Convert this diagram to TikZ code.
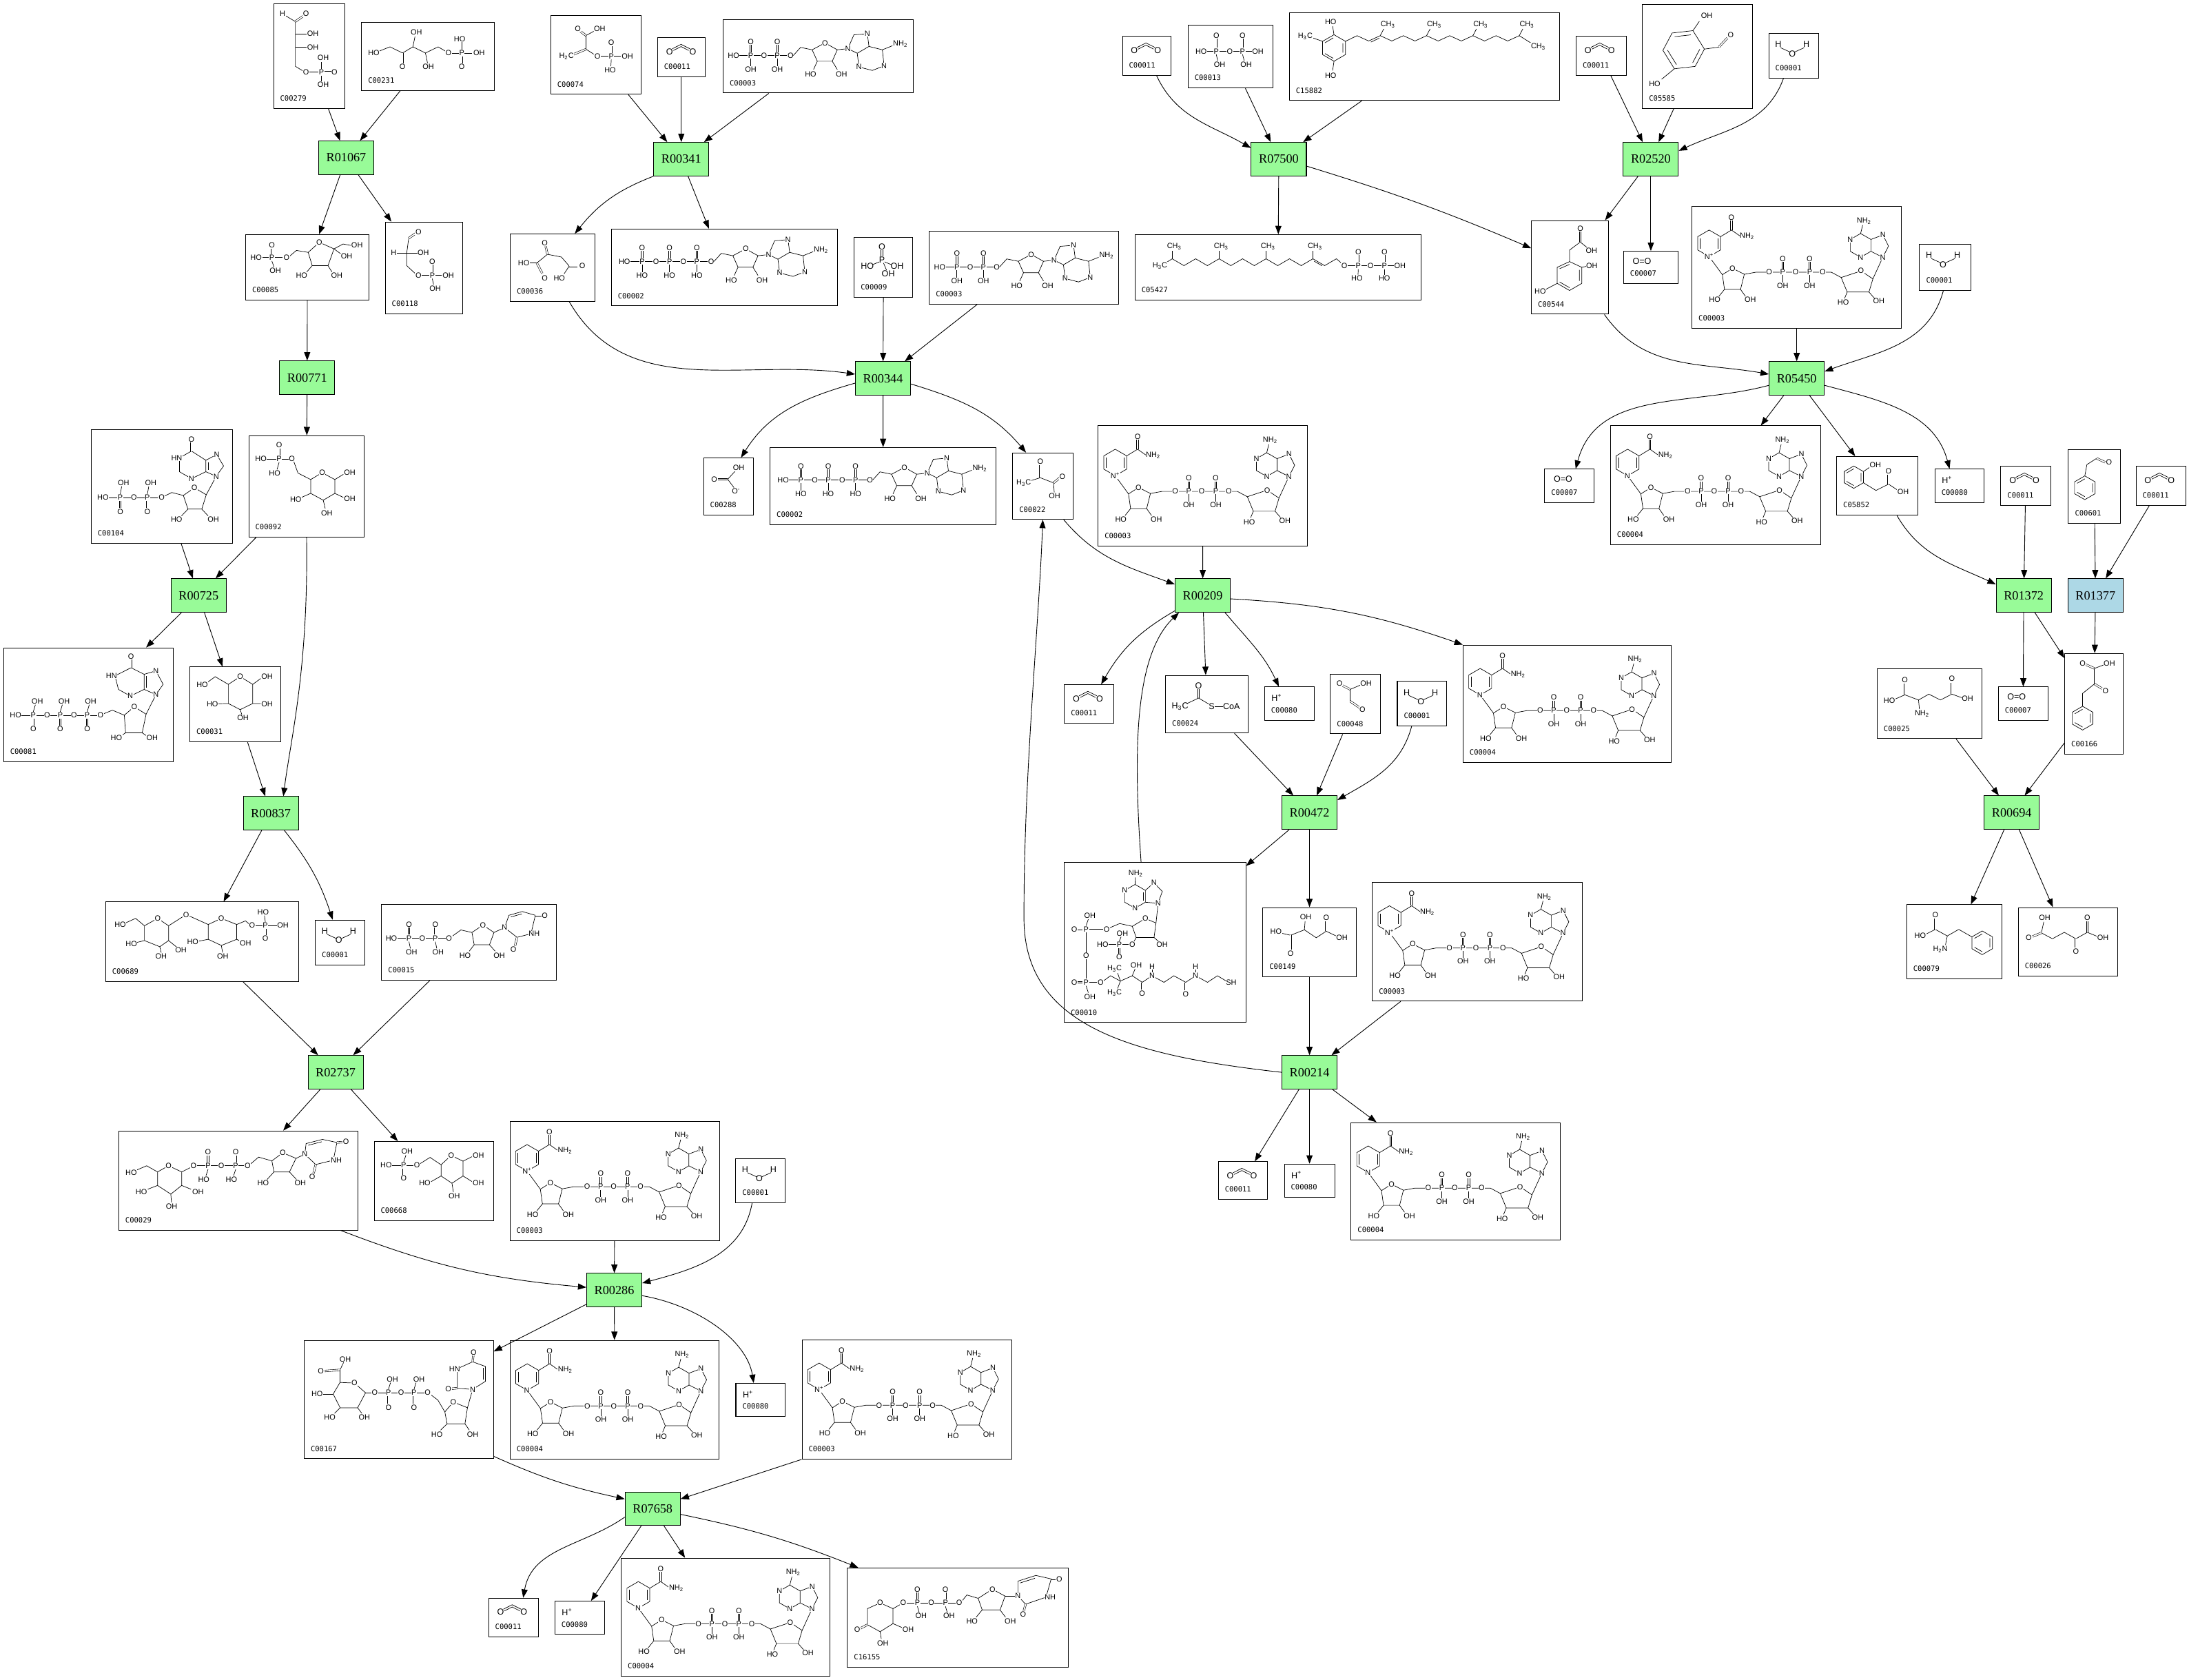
\documentclass[tikz,border=0pt]{standalone}
\usepackage{fontspec}
\setmainfont{Liberation Serif}
\newfontfamily\idfont{DejaVu Sans Mono}
\newfontfamily\chemfont{Liberation Sans}
\usetikzlibrary{arrows.meta}
\definecolor{rgreen}{HTML}{98FB98}
\definecolor{rblue}{HTML}{ADD8E6}
\tikzset{
 rbox/.style={draw, line width=0.5pt, fill=rgreen, minimum width=39.5pt, minimum height=24pt, inner sep=0pt, font=\fontsize{9}{9}\selectfont},
 cbox/.style={draw, line width=0.5pt, inner sep=0pt},
 idlab/.style={font=\idfont\fontsize{5.2}{5.2}\selectfont, inner sep=0pt, anchor=base west},
 chtext/.style={font=\chemfont\fontsize{6.2}{6.2}\selectfont, inner sep=0pt},
 chlab/.style={font=\chemfont\fontsize{5.4}{5.4}\selectfont, inner sep=0.3pt, fill=white},
 bond/.style={line width=0.35pt},
 dbl/.style={line width=0.3pt, double, double distance=0.9pt},
 rxarrow/.style={-{Triangle[length=6pt,width=4.4pt]}, line width=0.45pt},
}
\newcommand\cpd[6]{\node[cbox, minimum width={#4-#2}, minimum height={#5-#3}] (#1) at ({(#2+#4)/2},{-(#3+#5)/2}) {};
 \node[idlab] at ({#2+4.5},{-#5+5.3}) {#6};}
\newcommand\rxn[4]{\node[rbox] (#1) at (#2,-#3) {#4};}
\newcommand\lb[2]{\node[chlab] at (#1) {#2};}
\newcommand\inbox[2]{\begin{scope}[shift={(#1.north west)}, yscale=-1]#2\end{scope}}
\newcommand\hexa[2]{\draw[bond, shift={(#1)}] (90:#2) -- (30:#2) -- (-30:#2) -- (-90:#2) -- (210:#2) -- (150:#2) -- cycle;
 \draw[bond, shift={(#1)}] (30:0.75*#2) -- (-30:0.75*#2) (-90:0.75*#2) -- (210:0.75*#2) (150:0.75*#2) -- (90:0.75*#2);}
\newcommand\cotwo[1]{\begin{scope}[shift={(#1.north west)}]
 \node[chtext] at (8.8,-10.2) {O}; \node[chtext] at (25.5,-10.2) {O};
 \draw[bond] (10.8,-8.2) -- (17.1,-5.0) -- (23.5,-8.2);
 \draw[bond] (11.6,-9.4) -- (17.1,-6.6) -- (22.6,-9.4);
\end{scope}}
\newcommand\water[1]{\begin{scope}[shift={(#1.north west)}]
 \node[chtext] at (7,-8.1) {H}; \node[chtext] at (17.1,-14.7) {O}; \node[chtext] at (27.2,-8.1) {H};
 \draw[bond] (8.6,-10.4) -- (15.2,-13.4); \draw[bond] (19,-13.4) -- (25.6,-10.4);
\end{scope}}
\newcommand\proton[1]{\begin{scope}[shift={(#1.north west)}]
 \node[chtext, anchor=west] at (5,-8) {H\textsuperscript{+}};
\end{scope}}
\newcommand\oxy[1]{\begin{scope}[shift={(#1.north west)}]
 \node[chtext, anchor=west] at (6.5,-7.2) {O=O};
\end{scope}}
\newcommand\phosph[1]{\begin{scope}[shift={(#1.north west)}]
 \node[chtext] at (20.1,-7.2) {O}; \node[chtext] at (20.1,-16.3) {P};
 \node[chtext] at (9.6,-20.6) {HO}; \node[chtext] at (31,-20.6) {OH}; \node[chtext] at (24.6,-26.3) {OH};
 \draw[bond] (19.5,-9.4) -- (19.5,-13.8); \draw[bond] (20.7,-9.4) -- (20.7,-13.8);
 \draw[bond] (18.2,-17.8) -- (13.4,-19.8); \draw[bond] (22,-17.8) -- (26.8,-19.8); \draw[bond] (21.2,-18.6) -- (23.4,-23.8);
\end{scope}}
\newcommand\acoa[1]{\begin{scope}[shift={(#1.north west)}, yscale=-1]
 \draw[bond] (15.5,20.5) -- (23.9,16.5) -- (31.2,20.8); \draw[bond] (35.6,22.7) -- (41.4,22.7);
 \draw[bond] (23.3,16.5) -- (23.3,10); \draw[bond] (24.5,16.5) -- (24.5,10);
 \node[chtext] at (23.9,7.7) {O}; \node[chtext] at (10.6,22.7) {H\textsubscript{3}C};
 \node[chtext] at (33.3,22.7) {S}; \node[chtext] at (47.5,22.7) {CoA};
\end{scope}}
\newcommand\adenos[2]{\begin{scope}[shift={(#1,#2)}]
 \draw[bond] (2,0) -- (7.2,-5.8) -- (15.5,-4.1);
 \draw[bond] (15.5,-4.1) -- (24.7,-9) -- (33.5,-4.1) -- (29.9,4.1) -- (19.2,4.1) -- cycle;
 \draw[bond] (19.2,4.1) -- (16.5,10); \draw[bond] (29.9,4.1) -- (33.5,10);
 \draw[bond] (33.5,-4.1) -- (41.1,-4.9);
 \draw[bond] (41.1,-4.9) -- (45.4,-14.8) -- (55,-15.6) -- (56.2,-6.5) -- (47.8,-1.6) -- cycle;
 \draw[bond] (56.2,-6.5) -- (65.8,-4.1) -- (67,7.4) -- (58.6,10.7) -- (49,8.2) -- (47.8,-1.6);
 \draw[bond] (65.8,-4.1) -- (73,-7);
 \node[chlab] at (24.7,-9) {O}; \node[chlab] at (41.1,-4.9) {N}; \node[chlab] at (55,-15.6) {N};
 \node[chlab] at (67,7.4) {N}; \node[chlab] at (49,8.2) {N};
 \node[chlab, anchor=west] at (73,-8.2) {NH\textsubscript{2}};
 \node[chlab] at (14.4,13.5) {HO}; \node[chlab] at (36.5,13.5) {OH};
\end{scope}}
\newcommand\atp[2]{\begin{scope}[shift={(#1.north west)}, yscale=-1]
 \ifnum#2=3
  \draw[bond] (12,23.5) -- (70,23.5);
  \foreach \px in {22.3,41.9,61.5} {\draw[bond] (\px-0.6,23.5) -- (\px-0.6,15.5); \draw[bond] (\px+0.6,23.5) -- (\px+0.6,15.5); \draw[bond] (\px,23.5) -- (\px,31.5);}
  \node[chlab] at (9.6,23.5) {HO};
  \foreach \px in {22.3,41.9,61.5} {\node[chlab] at (\px,23.5) {P}; \node[chlab] at (\px,13.7) {O}; \node[chlab] at (\px,33.4) {HO};}
  \foreach \px in {32.3,51.9,71.8} {\node[chlab] at (\px,23.5) {O};}
  \adenos{71.8}{23.5}
 \else
  \draw[bond] (10,26) -- (47,26);
  \foreach \px in {20,39} {\draw[bond] (\px-0.6,26) -- (\px-0.6,18); \draw[bond] (\px+0.6,26) -- (\px+0.6,18); \draw[bond] (\px,26) -- (\px,34);}
  \node[chlab] at (7.7,26) {HO};
  \foreach \px in {20,39} {\node[chlab] at (\px,26) {P}; \node[chlab] at (\px,16.2) {O}; \node[chlab] at (\px,35.9) {OH};}
  \foreach \px in {29.5,48.5} {\node[chlab] at (\px,26) {O};}
  \adenos{48.5}{26}
 \fi
\end{scope}}
\newcommand\nad[2]{\begin{scope}[shift={(#1.north west)}, yscale=-1]
 \draw[bond] (12.5,17) -- (20.7,21.75) -- (20.7,31.25) -- (12.5,36) -- (4.3,31.25) -- (4.3,21.75) -- cycle;
 \draw[bond] (6,22.8) -- (6,30.2); \draw[bond] (19,22.8) -- (19,30.2);
 \draw[bond] (20.7,21.75) -- (28.5,17) -- (34.5,21.2);
 \draw[bond] (27.9,17) -- (27.9,9.5); \draw[bond] (29.1,17) -- (29.1,9.5);
 \draw[bond] (12.5,36) -- (22,49);
 \draw[bond] (22,49) -- (29.2,44.4) -- (37.7,48.7) -- (35,59.5) -- (23.5,59.5) -- cycle;
 \draw[bond] (23.5,59.5) -- (19.5,64.5); \draw[bond] (35,59.5) -- (38.5,64.5);
 \draw[bond] (37.7,48.7) -- (46,47.2) -- (100,47.2) -- (107.1,51);
 \foreach \px in {65.2,84.5} {\draw[bond] (\px-0.6,47.2) -- (\px-0.6,39.5); \draw[bond] (\px+0.6,47.2) -- (\px+0.6,39.5); \draw[bond] (\px,47.2) -- (\px,54.5);}
 \draw[bond] (107.1,51) -- (121.3,46.3) -- (129.8,52) -- (127,61.4) -- (111.4,61.4) -- cycle;
 \draw[bond] (111.4,61.4) -- (109.5,66); \draw[bond] (127,61.4) -- (131,66);
 \draw[bond] (129.8,52) -- (136.9,36.5);
 \draw[bond] (121,19.5) -- (113.6,23.75) -- (113.6,32.25) -- (121,36.5) -- (128.4,32.25) -- (128.4,23.75) -- cycle;
 \draw[bond] (128.4,23.75) -- (137,20.5) -- (141,28.5) -- (136.9,36.5) -- (128.4,32.25);
 \draw[bond] (121,19.5) -- (122.5,13.5);
 \node[chlab] at (12.5,36) {N\textsuperscript{#2}};
 \node[chlab] at (28.5,8) {O}; \node[chlab, anchor=west] at (34,21.5) {NH\textsubscript{2}};
 \node[chlab] at (29.2,44.4) {O}; \node[chlab] at (16.5,67) {HO}; \node[chlab] at (42,67) {OH};
 \foreach \px in {55.5,74.5,93.8} {\node[chlab] at (\px,47.2) {O};}
 \foreach \px in {65.2,84.5} {\node[chlab] at (\px,47.2) {P}; \node[chlab] at (\px,37.8) {O}; \node[chlab] at (\px,56.7) {OH};}
 \node[chlab] at (121.3,46.3) {O}; \node[chlab] at (108.5,69) {HO}; \node[chlab] at (134,68) {OH};
 \node[chlab] at (113.6,23.75) {N}; \node[chlab] at (121,36.5) {N}; \node[chlab] at (137,20.5) {N}; \node[chlab] at (136.9,36.5) {N};
 \node[chlab] at (123.5,10.5) {NH\textsubscript{2}};
\end{scope}}
\begin{document}
\begin{tikzpicture}[x=1pt,y=1pt]
\useasboundingbox (0,0) rectangle (1568,-1203);
\fill[white] (0,0) rectangle (1568,-1203);
% ---------- compounds ----------
\cpd{c279}{196}{2.5}{247}{77.7}{C00279}
\cpd{c231}{259}{16}{354.2}{64.7}{C00231}
\cpd{c74}{394.5}{11.2}{459}{67.5}{C00074}
\cpd{c11b}{471}{27}{505}{55}{C00011}
\cpd{c3c}{518}{14}{654}{66.6}{C00003}
\cpd{c11e}{804}{26}{839}{54}{C00011}
\cpd{c13}{851}{18}{911.7}{63}{C00013}
\cpd{c15882}{923.6}{9}{1117.3}{72}{C15882}
\cpd{c11f}{1129}{26}{1165}{54}{C00011}
\cpd{c5585}{1176.5}{3}{1255.5}{77.5}{C05585}
\cpd{c1d}{1267}{24}{1302.7}{56}{C00001}
\cpd{c85}{176}{168}{264.4}{214.7}{C00085}
\cpd{c118}{276}{159}{331.5}{224.8}{C00118}
\cpd{c36}{365.5}{167.6}{426}{215.8}{C00036}
\cpd{c2a}{437.9}{164}{599.7}{219}{C00002}
\cpd{c9}{611.9}{170}{653.8}{213}{C00009}
\cpd{c3d}{665.7}{165.5}{801.4}{217.8}{C00003}
\cpd{c5427}{813}{168}{1018}{215}{C05427}
\cpd{c544}{1097}{158}{1152}{225}{C00544}
\cpd{c7a}{1163}{180}{1202}{203}{C00007}
\cpd{c3g}{1212}{148}{1362}{235}{C00003}
\cpd{c1e}{1375}{175}{1412}{208}{C00001}
\cpd{c104}{65.3}{307.7}{166.7}{389.1}{C00104}
\cpd{c92}{178.2}{312}{261}{384.7}{C00092}
\cpd{c288}{504}{328}{539.6}{369}{C00288}
\cpd{c2b}{551.6}{320.5}{713.6}{375.7}{C00002}
\cpd{c22}{725.4}{324.4}{768.5}{372}{C00022}
\cpd{c3e}{786.6}{305}{936.7}{391}{C00003}
\cpd{c7b}{1106.5}{336}{1141.8}{360}{C00007}
\cpd{c4e}{1153.6}{305}{1304}{390}{C00004}
\cpd{c5852}{1315.6}{327}{1374}{369}{C05852}
\cpd{c80e}{1386}{336}{1421}{360}{C00080}
\cpd{c11g}{1433.2}{334}{1468.8}{362}{C00011}
\cpd{c601}{1481.6}{322}{1518.8}{374.6}{C00601}
\cpd{c11h}{1530}{334}{1566}{362}{C00011}
\cpd{c81}{2.6}{464}{124}{545.5}{C00081}
\cpd{c31}{136}{477.7}{201}{531.4}{C00031}
\cpd{c11c}{762.4}{490.4}{797.9}{518}{C00011}
\cpd{c24}{834.9}{483.7}{894}{525}{C00024}
\cpd{c80c}{905.8}{492}{941.3}{516}{C00080}
\cpd{c48}{953}{483}{988.7}{525.6}{C00048}
\cpd{c1c}{1000.9}{488}{1036.4}{520}{C00001}
\cpd{c4c}{1048}{462}{1197}{546}{C00004}
\cpd{c7c}{1431.4}{492}{1467}{516}{C00007}
\cpd{c25}{1344.6}{479}{1419.6}{529}{C00025}
\cpd{c166}{1479}{468}{1521}{540}{C00166}
\cpd{c689}{75.7}{646}{213.9}{703}{C00689}
\cpd{c1a}{225.9}{659}{261.5}{691}{C00001}
\cpd{c15}{273.4}{648}{398.3}{702}{C00015}
\cpd{c10}{762.3}{617.7}{892.4}{732.3}{C00010}
\cpd{c149}{904.6}{650}{971.4}{699.6}{C00149}
\cpd{c3f}{983}{632}{1133.5}{717}{C00003}
\cpd{c79}{1365.8}{648}{1433.9}{701}{C00079}
\cpd{c26}{1445.7}{650}{1516.8}{699}{C00026}
\cpd{c29}{85.1}{810}{256.4}{881}{C00029}
\cpd{c668}{268}{817.6}{353.6}{874.3}{C00668}
\cpd{c3a}{365.3}{803}{515.4}{888.5}{C00003}
\cpd{c1b}{527}{829.7}{562.5}{861.3}{C00001}
\cpd{c11d}{872.7}{832}{908}{859}{C00011}
\cpd{c80d}{920}{833.7}{956}{857.5}{C00080}
\cpd{c4d}{967.8}{804}{1117.6}{888}{C00004}
\cpd{c167}{217.9}{960}{353.4}{1044.8}{C00167}
\cpd{c4a}{365.4}{960}{515.2}{1045}{C00004}
\cpd{c80a}{527.1}{990.8}{562.6}{1014.5}{C00080}
\cpd{c3b}{574.5}{959.5}{724.7}{1045}{C00003}
\cpd{c11a}{350}{1144.6}{385.5}{1172.4}{C00011}
\cpd{c80b}{397.5}{1146.8}{433}{1170.6}{C00080}
\cpd{c4b}{445}{1116}{594.4}{1200.5}{C00004}
\cpd{c16155}{607}{1123}{765}{1194}{C16155}
% ---------- structure drawings ----------
\cotwo{c11a}\cotwo{c11b}\cotwo{c11c}\cotwo{c11d}\cotwo{c11e}\cotwo{c11f}\cotwo{c11g}\cotwo{c11h}
\water{c1a}\water{c1b}\water{c1c}\water{c1d}\water{c1e}
\proton{c80a}\proton{c80b}\proton{c80c}\proton{c80d}\proton{c80e}
\oxy{c7a}\oxy{c7b}\oxy{c7c}
\phosph{c9}
\acoa{c24}
\atp{c2a}{3}\atp{c2b}{3}\atp{c3c}{2}\atp{c3d}{2}
\nad{c3a}{+}\nad{c3b}{+}\nad{c3e}{+}\nad{c3f}{+}\nad{c3g}{+}
\nad{c4a}{}\nad{c4b}{}\nad{c4c}{}\nad{c4d}{}\nad{c4e}{}
\inbox{c279}{
 \draw[bond] (8.8,9) -- (15.8,13.2) -- (15.8,45.2) -- (21.3,48.6);
 \draw[dbl] (15.8,13.2) -- (21.2,9.4);
 \draw[bond] (15.8,22.2) -- (24,22.2); \draw[bond] (15.8,31.7) -- (24,31.7);
 \draw[bond] (25.7,49.4) -- (32.5,49.4); \draw[dbl] (36.5,49.4) -- (41.4,49.4);
 \draw[bond] (34.5,47) -- (34.5,42); \draw[bond] (34.5,52) -- (34.5,56);
 \lb{6.6,7.7}{H} \lb{23.5,7.7}{O} \lb{28.3,21.9}{OH} \lb{28.3,31.7}{OH} \lb{23.5,49.4}{O} \lb{34.5,49.4}{P} \lb{43.8,49.4}{O} \lb{35.8,39}{OH} \lb{35.8,58.4}{OH}}
\inbox{c231}{
 \draw[bond] (12.5,21) -- (20.6,17.8) -- (29.6,22.2) -- (37,17.8) -- (46,22.2) -- (55.1,17.8) -- (60.5,21);
 \draw[dbl] (29.6,22.2) -- (29.6,29.8);
 \draw[bond] (37,17.8) -- (38.5,10.5); \draw[bond] (46,22.2) -- (47.5,29.5);
 \draw[bond] (64.5,22.2) -- (79.5,22.2); \draw[bond] (72,20) -- (72,14.5); \draw[dbl] (72,24.5) -- (72,29.8);
 \lb{9,22.2}{HO} \lb{29.6,32.1}{O} \lb{39.5,7.4}{OH} \lb{48,32.1}{OH} \lb{62.5,22.2}{O} \lb{72,22.2}{P} \lb{84.4,22.2}{OH} \lb{70.5,12}{HO} \lb{72,32.1}{O}}
\inbox{c74}{
 \draw[dbl] (25.5,14.5) -- (21.5,11.5); \draw[bond] (25.5,14.5) -- (31,11.5); \draw[bond] (25.5,14.5) -- (25.5,24.3);
 \draw[dbl] (25.5,24.3) -- (16.5,28); \draw[bond] (25.5,24.3) -- (31,27.8); \draw[bond] (36.3,29.3) -- (50.5,29.3);
 \draw[dbl] (43.6,27) -- (43.6,22); \draw[bond] (43.6,31.7) -- (43.3,36.5);
 \lb{19.7,9.5}{O} \lb{35.3,9.5}{OH} \lb{11.5,29.3}{H\textsubscript{2}C} \lb{33.7,29.3}{O} \lb{43.6,29.3}{P} \lb{43.6,19.4}{O} \lb{55.1,29.3}{OH} \lb{42.8,39.1}{HO}}
\inbox{c13}{
 \draw[bond] (13.5,18.9) -- (46,18.9); \draw[dbl] (20.5,16.5) -- (20.5,10); \draw[dbl] (39.3,16.5) -- (39.3,10);
 \draw[bond] (20.5,21.3) -- (21.5,25.8); \draw[bond] (39.3,21.3) -- (40.5,25.8);
 \lb{20.5,7.7}{O} \lb{39.3,7.7}{O} \lb{9.6,18.9}{HO} \lb{20.5,18.9}{P} \lb{30.1,18.9}{O} \lb{39.3,18.9}{P} \lb{50.3,18.9}{OH} \lb{22.8,28.3}{OH} \lb{41.9,28.3}{OH}}
\inbox{c15882}{
 \draw[bond] (32.2,16.1) -- (40.4,20.85) -- (40.4,30.35) -- (32.2,35.1) -- (24,30.35) -- (24,20.85) -- cycle;
 \draw[bond] (38.6,22.3) -- (38.6,28.9) (31.6,33) -- (25.7,29.6) (25.7,21.9) -- (31.6,18.4);
 \draw[bond] (32.2,16.1) -- (31.2,10); \draw[bond] (24,20.85) -- (16.5,18.2); \draw[bond] (32.2,35.1) -- (31.2,41.8);
 \draw[bond] (40.4,20.85) -- (48.7,16.8) -- (57,20.6) -- (65.3,16.8) -- (73.6,20.6) -- (81.9,16.8) -- (90.2,20.6) -- (98.5,16.8) -- (106.8,20.6) -- (115.1,16.8) -- (123.4,20.6) -- (131.7,16.8) -- (140,20.6) -- (148.3,16.8) -- (156.6,20.6) -- (164.9,16.8) -- (174,22.5);
 \draw[bond] (58.6,21.4) -- (64.6,18.6);
 \foreach \cx in {65.3,98.5,131.7,164.9} {\draw[bond] (\cx,16.8) -- (\cx+2.5,12);}
 \foreach \cx in {65.3,98.5,131.7,164.9} {\lb{\cx+5.5,9}{CH\textsubscript{3}}}
 \lb{29.8,7.1}{HO} \lb{11.6,17.3}{H\textsubscript{3}C} \lb{29.8,45.3}{HO} \lb{178.5,24.6}{CH\textsubscript{3}}}
\inbox{c5585}{
 \draw[bond] (36.4,19.2) -- (44.6,32.4) -- (38,44.8) -- (23.1,46.5) -- (14.9,33.3) -- (21.5,20.9) -- cycle;
 \draw[bond] (41.3,32.5) -- (36.2,42.2) (24.6,43.5) -- (18.2,33.2) (23.3,23.5) -- (34.9,22.2);
 \draw[bond] (36.4,19.2) -- (41,12.5); \draw[bond] (44.6,32.4) -- (55,31); \draw[dbl] (55,31) -- (61,24.5); \draw[bond] (23.1,46.5) -- (14,54);
 \lb{46.3,8.5}{OH} \lb{63.5,22.5}{O} \lb{9,57.5}{HO}}
\inbox{c544}{
 \draw[dbl] (35.2,15.6) -- (35.2,8); \draw[bond] (35.2,15.6) -- (40,19.5); \draw[bond] (35.2,15.6) -- (27.5,21.4) -- (27.5,29.6);
 \draw[bond] (27.5,29.6) -- (36.3,33.7) -- (36.3,45.2) -- (27.5,50.3) -- (18.7,45.2) -- (18.7,33.7) -- cycle;
 \draw[bond] (34.6,35.5) -- (34.6,43.4) (27.5,48.3) -- (20.4,44.2) (20.4,34.7) -- (27.5,31.6);
 \draw[bond] (36.3,33.7) -- (40.5,32.8); \draw[bond] (18.7,45.2) -- (10.5,49.5);
 \lb{35.2,5.8}{O} \lb{43.3,21.9}{OH} \lb{43.5,32.5}{OH} \lb{6.5,51}{HO}}
\inbox{c5427}{
 \draw[bond] (21.5,21) -- (26.9,17.6) -- (35.3,22.5) -- (43.7,17.6) -- (52.1,22.5) -- (60.5,17.6) -- (68.9,22.5) -- (77.3,17.6) -- (85.7,22.5) -- (94.1,17.6) -- (102.5,22.5) -- (110.9,17.6) -- (119.3,22.5) -- (127.7,17.6) -- (136.1,22.5) -- (144.5,17.6) -- (148.5,21);
 \draw[bond] (128.6,19.3) -- (134.2,22.6);
 \foreach \cx in {26.9,60.5,94.1,127.7} {\draw[bond] (\cx,17.6) -- (\cx,12);}
 \foreach \cx in {26.9,60.5,94.1,127.7} {\lb{\cx+1.5,8.6}{CH\textsubscript{3}}}
 \draw[bond] (152,22.5) -- (186,22.5); \draw[dbl] (160.2,20) -- (160.2,15); \draw[dbl] (178.9,20) -- (178.9,15);
 \draw[bond] (160.2,25) -- (160,29); \draw[bond] (178.9,25) -- (178.9,29);
 \lb{18.1,22.5}{H\textsubscript{3}C} \lb{150.2,22.5}{O} \lb{160.2,22.5}{P} \lb{169,22.5}{O} \lb{178.9,22.5}{P} \lb{190,22.5}{OH}
 \lb{160.2,12.7}{O} \lb{178.9,12.7}{O} \lb{159.2,31.6}{HO} \lb{178.9,31.6}{HO}}
\inbox{c85}{
 \draw[bond] (11,16.7) -- (26.5,16.7); \draw[dbl] (19,14.2) -- (19,10.5); \draw[bond] (19,19.2) -- (20.5,23.5);
 \draw[bond] (32,15.5) -- (36.6,11.6) -- (45,13);
 \draw[bond] (45,13) -- (53,5.8) -- (63.5,10.5) -- (59.2,22.5) -- (47.9,22.5) -- cycle;
 \draw[bond] (47.9,22.5) -- (44,27); \draw[bond] (59.2,22.5) -- (62,27); \draw[bond] (63.5,10.5) -- (69,14.5); \draw[bond] (63.5,10.5) -- (70,7) -- (75.5,8);
 \lb{7.7,16.7}{HO} \lb{19,16.7}{P} \lb{19,8}{O} \lb{21.5,26.1}{OH} \lb{29.5,16.7}{O} \lb{53,5.8}{O} \lb{40.3,29.7}{HO} \lb{65.5,29.7}{OH} \lb{72.5,15.9}{OH} \lb{80,8}{OH}}
\inbox{c118}{
 \draw[bond] (8.5,22.4) -- (24,22.4); \draw[bond] (15.6,22.4) -- (17,11.9); \draw[dbl] (17,11.9) -- (21.8,8.5);
 \draw[bond] (15.6,22.4) -- (15.6,31.5) -- (21.5,37); \draw[bond] (26.5,38.4) -- (40.5,38.4); \draw[dbl] (33.9,36) -- (33.9,31); \draw[bond] (33.9,40.8) -- (34.8,45);
 \lb{24,7.2}{O} \lb{6.2,22.4}{H} \lb{27.5,22.4}{OH} \lb{24,38.4}{O} \lb{33.9,38.4}{P} \lb{33.9,28.6}{O} \lb{45.3,38.4}{OH} \lb{35.9,47.8}{OH}}
\inbox{c36}{
 \draw[bond] (13.5,21) -- (19.3,21); \draw[dbl] (19.3,21) -- (23.2,28.5); \draw[bond] (19.3,21) -- (26.9,14.8); \draw[dbl] (26.9,14.8) -- (25.6,9);
 \draw[bond] (26.9,14.8) -- (36.8,16.7) -- (42.5,23.2); \draw[dbl] (42.5,23.2) -- (48.5,23.2); \draw[bond] (42.5,23.2) -- (38.8,28.8);
 \lb{25,6.5}{O} \lb{9.9,21}{HO} \lb{24.9,31.9}{O} \lb{35.4,31.9}{HO} \lb{51.8,23.2}{O}}
\inbox{c104}{
 \draw[bond] (12.5,48.9) -- (48,48.9);
 \foreach \px in {21.1,40.5} {\draw[bond] (\px,46.5) -- (\px+1,41); \draw[dbl] (\px,51.3) -- (\px,56.5);}
 \draw[bond] (52.5,48) -- (58,45.3) -- (66.3,47.4);
 \draw[bond] (66.3,47.4) -- (74.2,41.9) -- (82.7,46.9) -- (79.5,57.2) -- (69.6,57.2) -- cycle;
 \draw[bond] (69.6,57.2) -- (65,62); \draw[bond] (79.5,57.2) -- (84,62); \draw[bond] (82.7,46.9) -- (89.8,33.7);
 \draw[bond] (89.8,33.7) -- (95.1,26.3) -- (90.2,18.1) -- (82.4,22.2) -- (82.4,30.4) -- cycle;
 \draw[bond] (82.4,30.4) -- (72.1,35.4) -- (63.5,30.4) -- (63.5,20.5) -- (72.1,15.6) -- (82.4,22.2);
 \draw[bond] (84,23.5) -- (84,29.2); \draw[dbl] (72.1,15.6) -- (72.1,9.5);
 \lb{8.7,48.9}{HO} \lb{21.1,48.9}{P} \lb{40.5,48.9}{P} \lb{23.5,38.2}{OH} \lb{42.9,38.2}{OH} \lb{21.1,58.9}{O} \lb{40.5,58.9}{O}
 \lb{30.9,48.9}{O} \lb{50.7,48.9}{O} \lb{74.2,41.9}{O} \lb{61.4,64.5}{HO} \lb{87.7,64.5}{OH}
 \lb{89.8,33.7}{N} \lb{90.2,18.1}{N} \lb{72.1,35.4}{N} \lb{61.5,20.5}{HN} \lb{72.1,7.4}{O}}
\inbox{c92}{
 \draw[bond] (12.5,16.9) -- (29,16.9); \draw[dbl] (22,14.5) -- (22,9.5); \draw[bond] (22,19.3) -- (20.5,24.5);
 \draw[bond] (32.5,18.8) -- (35.5,27.1) -- (44.6,31.7);
 \draw[bond] (44.6,31.7) -- (52.8,26.8) -- (61.9,31.7) -- (61.9,41.6) -- (53.6,46.5) -- (44.6,41.6) -- cycle;
 \draw[bond] (61.9,31.7) -- (68,28); \draw[bond] (61.9,41.6) -- (68,44.5); \draw[bond] (53.6,46.5) -- (55,52.5); \draw[bond] (44.6,41.6) -- (38,44.5);
 \lb{22,7.1}{O} \lb{8.9,16.9}{HO} \lb{22,16.9}{P} \lb{31.1,16.9}{O} \lb{18.8,27.1}{HO} \lb{52.8,26.8}{O} \lb{72.6,26.5}{OH} \lb{72.6,45.2}{OH} \lb{56.1,55.6}{OH} \lb{33.9,45.7}{HO}}
\inbox{c31}{
 \draw[bond] (27.8,12.7) -- (36.3,7.2) -- (45.3,12.7) -- (45.3,26.4) -- (36.3,30.8) -- (27.8,26.4) -- cycle;
 \draw[bond] (27.8,12.7) -- (18.4,7.2) -- (12.5,11.5); \draw[bond] (45.3,12.7) -- (51,8.5); \draw[bond] (45.3,26.4) -- (51,26.5);
 \draw[bond] (36.3,30.8) -- (37.5,34.5); \draw[bond] (27.8,26.4) -- (20.5,26.6);
 \lb{9.1,13}{HO} \lb{36.3,7.2}{O} \lb{55.5,7.2}{OH} \lb{55.5,26.8}{OH} \lb{38.3,36.9}{OH} \lb{16.4,26.8}{HO}}
\inbox{c81}{
 \draw[bond] (12.5,48.5) -- (67.5,48.5);
 \foreach \px in {21.5,40.8,60.1} {\draw[bond] (\px,46) -- (\px+1.5,41); \draw[dbl] (\px,51) -- (\px,56);}
 \draw[bond] (71.8,47.5) -- (78.2,44.9) -- (86.7,48.5);
 \draw[bond] (86.7,48.5) -- (93.8,42.4) -- (102.3,47.8) -- (99.5,61.1) -- (87.6,61.1) -- cycle;
 \draw[bond] (87.6,61.1) -- (84,63.5); \draw[bond] (99.5,61.1) -- (103,63.5); \draw[bond] (102.3,47.8) -- (109.4,33.7);
 \draw[bond] (109.4,33.7) -- (114.5,26.4) -- (109.4,16.7) -- (100.9,19.2) -- (100.9,30) -- cycle;
 \draw[bond] (100.9,30) -- (91,34.8) -- (82.5,30) -- (80,20.3) -- (91.5,14.5) -- (100.9,19.2);
 \draw[bond] (102.4,20.5) -- (102.4,28.7); \draw[dbl] (91.5,14.5) -- (91.5,8.5);
 \lb{8.8,48.5}{HO} \lb{21.5,48.5}{P} \lb{40.8,48.5}{P} \lb{60.1,48.5}{P} \lb{24.4,38.4}{OH} \lb{43.6,38.4}{OH} \lb{62.6,38.4}{OH}
 \lb{21.5,58.3}{O} \lb{40.8,58.3}{O} \lb{60.1,58.3}{O} \lb{31.4,48.5}{O} \lb{50.7,48.5}{O} \lb{69.7,48.5}{O} \lb{93.8,42.4}{O}
 \lb{81,64.7}{HO} \lb{106.6,64.7}{OH} \lb{109.4,33.7}{N} \lb{109.4,16.7}{N} \lb{91,34.8}{N} \lb{77.5,20.3}{HN} \lb{91.5,6.5}{O}}
\inbox{c689}{
 \draw[bond] (28,17.3) -- (37.5,12) -- (45.3,17.3) -- (45.3,27.9) -- (39,32.3) -- (28,27.9) -- cycle;
 \draw[bond] (28,17.3) -- (21.7,12) -- (14,15.5); \draw[bond] (28,27.9) -- (21.5,29.5); \draw[bond] (39,32.3) -- (40,36.5); \draw[bond] (45.3,27.9) -- (51,32.5);
 \draw[bond] (45.3,17.3) -- (57.9,9.3) -- (73.7,16.4);
 \draw[bond] (73.7,16.4) -- (83.1,12) -- (94.1,16.4) -- (94.1,27) -- (83.1,31.4) -- (73.7,27) -- cycle;
 \draw[bond] (73.7,27) -- (66,28.5); \draw[bond] (83.1,31.4) -- (84,36.5); \draw[bond] (94.1,27) -- (98,29);
 \draw[bond] (94.1,16.4) -- (100.4,13.8) -- (103,16); \draw[bond] (107.5,17) -- (123,17); \draw[bond] (114.6,14.5) -- (114,10); \draw[dbl] (114.6,19.5) -- (114.6,23.8);
 \lb{10.7,16.4}{HO} \lb{37.5,12}{O} \lb{18.6,30.5}{HO} \lb{40,39.3}{OH} \lb{54.1,34.6}{OH} \lb{57.9,9.3}{O} \lb{83.1,12}{O}
 \lb{62.6,28.7}{HO} \lb{100.4,29.6}{OH} \lb{84.1,39.3}{OH} \lb{105.1,17}{O} \lb{114.6,17}{P} \lb{113,7.6}{HO} \lb{127.2,17}{OH} \lb{114.6,26.1}{O}}
\inbox{c15}{
 \draw[bond] (10.5,24.2) -- (46.5,24.2);
 \foreach \px in {19.8,38.7} {\draw[dbl] (\px,21.7) -- (\px,16.6); \draw[bond] (\px,26.7) -- (\px+1,31.5);}
 \draw[bond] (50.5,23) -- (57,18.3) -- (64.9,20.1);
 \draw[bond] (64.9,20.1) -- (72.8,14.8) -- (80.7,20.1) -- (77.5,28.9) -- (66.5,28.9) -- cycle;
 \draw[bond] (66.5,28.9) -- (63,33.5); \draw[bond] (77.5,28.9) -- (81.5,33.5); \draw[bond] (80.7,20.1) -- (88.3,16.6);
 \draw[bond] (88.3,16.6) -- (91.4,7.8) -- (100.9,5.1) -- (110.3,7.8) -- (107.2,21) -- (97.2,23.6) -- cycle;
 \draw[bond] (92.8,9) -- (100.6,6.8); \draw[dbl] (110.3,7.8) -- (114.8,7.8); \draw[dbl] (97.2,23.6) -- (95.8,29.6);
 \lb{7.2,24.2}{HO} \lb{19.8,24.2}{P} \lb{38.7,24.2}{P} \lb{19.8,14.3}{O} \lb{38.7,14.3}{O} \lb{21.7,34.2}{OH} \lb{40.6,34.2}{OH}
 \lb{29.3,24.2}{O} \lb{48.5,24.2}{O} \lb{72.8,14.8}{O} \lb{60,36.8}{HO} \lb{84.5,36.8}{OH} \lb{88.3,16.6}{N} \lb{117,7.8}{O} \lb{109.5,21}{NH} \lb{94.6,32.4}{O}}
\inbox{c29}{
 \draw[bond] (28,29.6) -- (35.9,25.2) -- (45.3,29.6) -- (45.3,39.3) -- (37.5,45.5) -- (28,39.3) -- cycle;
 \draw[bond] (28,29.6) -- (20.2,25.2) -- (12.5,28.5); \draw[bond] (28,39.3) -- (21,42); \draw[bond] (37.5,45.5) -- (38,51.5); \draw[bond] (45.3,39.3) -- (52,42); \draw[bond] (45.3,29.6) -- (51.5,26.5);
 \draw[bond] (55.8,25.2) -- (90.5,25.2);
 \foreach \px in {64.2,84} {\draw[dbl] (\px,22.7) -- (\px,17.6); \draw[bond] (\px,27.7) -- (\px-1.5,32.3);}
 \draw[bond] (94.5,24) -- (100.4,19) -- (109.9,21.7);
 \draw[bond] (109.9,21.7) -- (117.7,15.9) -- (127.2,19.9) -- (122.5,29.6) -- (111.4,29.6) -- cycle;
 \draw[bond] (111.4,29.6) -- (106.5,35); \draw[bond] (122.5,29.6) -- (127.5,35); \draw[bond] (127.2,19.9) -- (133.5,16.9);
 \draw[bond] (133.5,16.9) -- (134.4,9.3) -- (146.1,6.3) -- (156.5,8.5) -- (153.9,21.2) -- (141.3,24.3) -- cycle;
 \draw[bond] (136,10.5) -- (145.6,8); \draw[dbl] (156.5,8.5) -- (160.5,8.3); \draw[dbl] (141.3,24.3) -- (139.8,30.5);
 \lb{9.1,30}{HO} \lb{35.9,25.2}{O} \lb{57,44.1}{OH} \lb{38.1,54.3}{OH} \lb{16.4,44.1}{HO} \lb{53.8,25.2}{O} \lb{64.2,25.2}{P} \lb{64.2,15.5}{O} \lb{61.1,34.9}{HO}
 \lb{73.7,25.2}{O} \lb{84,25.2}{P} \lb{84,15.5}{O} \lb{80.9,34.9}{HO} \lb{92.5,25.2}{O} \lb{117.7,15.9}{O} \lb{103.6,37.6}{HO} \lb{130.3,37.6}{OH}
 \lb{133.5,16.9}{N} \lb{163,8.1}{O} \lb{156,21.2}{NH} \lb{138.8,33.1}{O}}
\inbox{c668}{
 \draw[bond] (12.5,17.3) -- (28.5,17.3); \draw[bond] (21.4,14.9) -- (23,10); \draw[dbl] (21.4,19.7) -- (21.4,24.3);
 \draw[bond] (33,16.2) -- (40.3,11.6) -- (48.2,16.9);
 \draw[bond] (48.2,16.9) -- (55.4,10.2) -- (63.9,14.3) -- (63.9,24.9) -- (56,30.1) -- (48.2,24.9) -- cycle;
 \draw[bond] (63.9,14.3) -- (70.5,11); \draw[bond] (63.9,24.9) -- (70.5,29); \draw[bond] (56,30.1) -- (57,36.5); \draw[bond] (48.2,24.9) -- (41,29);
 \lb{23.9,7.2}{OH} \lb{8.8,17.3}{HO} \lb{21.4,17.3}{P} \lb{21.4,26.6}{O} \lb{30.9,17.3}{O} \lb{55.4,10.2}{O} \lb{74.9,10.2}{OH} \lb{74.9,30.1}{OH} \lb{57.6,39.5}{OH} \lb{36.5,30.1}{HO}}
\inbox{c167}{
 \draw[bond] (25.9,21.4) -- (28.5,16); \draw[dbl] (25.9,21.4) -- (15,22.2); \draw[bond] (25.9,21.4) -- (25.9,30.4);
 \draw[bond] (25.9,30.4) -- (36.2,30.8) -- (44.2,37.8) -- (38.5,48.5) -- (26,48.5) -- (21,38.7) -- cycle;
 \draw[bond] (21,38.7) -- (13.5,38.7); \draw[bond] (26,48.5) -- (22,52.5); \draw[bond] (38.5,48.5) -- (41.5,52.5);
 \draw[bond] (44.2,37.8) -- (86.5,37.8);
 \foreach \px in {60.6,78.9} {\draw[bond] (\px,35.3) -- (\px+1.5,30.5); \draw[dbl] (\px,40.3) -- (\px,45.8);}
 \draw[bond] (90.7,39) -- (96,43) -- (101,51.5);
 \draw[bond] (101,51.5) -- (107,44.4) -- (117.2,48.5) -- (115.4,60) -- (102.6,60) -- cycle;
 \draw[bond] (102.6,60) -- (98,64.5); \draw[bond] (115.4,60) -- (118.5,64.5); \draw[bond] (117.2,48.5) -- (120.9,35.4);
 \draw[bond] (120.9,35.4) -- (109.9,34.5) -- (109.9,20.6) -- (120.9,15.6) -- (130,18.9) -- (130,29.6) -- cycle;
 \draw[bond] (128.4,20) -- (128.4,28.5); \draw[dbl] (120.9,15.6) -- (121.4,10.8); \draw[dbl] (109.9,34.5) -- (105.8,34.9);
 \lb{29.6,13.7}{OH} \lb{12.1,22.2}{O} \lb{36.2,30.8}{O} \lb{9.5,38.7}{HO} \lb{18.6,55.1}{HO} \lb{43.4,55.1}{OH}
 \lb{50.8,37.8}{O} \lb{60.6,37.8}{P} \lb{63.5,28}{OH} \lb{60.6,48.5}{O} \lb{69.7,37.8}{O} \lb{78.9,37.8}{P} \lb{82.5,28}{OH} \lb{78.9,48.5}{O} \lb{88.7,37.8}{O}
 \lb{107,44.4}{O} \lb{95.3,67.9}{HO} \lb{120.9,67.9}{OH} \lb{120.9,35.4}{N} \lb{108,20.6}{HN} \lb{121.6,8.7}{O} \lb{103.5,35}{O}}
\inbox{c16155}{
 \draw[bond] (14.6,29.4) -- (23.7,25.3) -- (32.9,29.4) -- (32.9,40.1) -- (23.7,45.9) -- (14.6,40.9) -- cycle;
 \draw[dbl] (14.6,40.9) -- (9.6,43.5); \draw[bond] (32.9,40.1) -- (39.5,43); \draw[bond] (23.7,45.9) -- (24.5,51);
 \draw[bond] (32.9,29.4) -- (38,26.5); \draw[bond] (42.3,25.3) -- (78.2,25.3);
 \foreach \px in {50.4,70.5} {\draw[dbl] (\px,22.8) -- (\px,17.6); \draw[bond] (\px,27.8) -- (\px+1.3,32.3);}
 \draw[bond] (82.3,24) -- (85.8,19.6) -- (93.9,22);
 \draw[bond] (93.9,22) -- (104.1,15.5) -- (113.2,20.4) -- (109.6,30.3) -- (96.8,30.3) -- cycle;
 \draw[bond] (96.8,30.3) -- (92.5,35.5); \draw[bond] (109.6,30.3) -- (113.5,35.5); \draw[bond] (113.2,20.4) -- (122.4,20.4);
 \draw[bond] (122.4,20.4) -- (122.4,9.7) -- (135.2,5.6) -- (146.2,8.1) -- (142.5,21.2) -- (127.9,26.2) -- cycle;
 \draw[bond] (124,11) -- (134.6,7.6); \draw[dbl] (146.2,8.1) -- (149.6,8.1); \draw[dbl] (127.9,26.2) -- (126.6,31);
 \lb{23.7,25.3}{O} \lb{7.3,44.3}{O} \lb{43.8,44.3}{OH} \lb{25.6,54.1}{OH} \lb{40.2,25.3}{O} \lb{50.4,25.3}{P} \lb{50.4,15.5}{O} \lb{53,34.7}{OH}
 \lb{60.3,25.3}{O} \lb{70.5,25.3}{P} \lb{70.5,15.5}{O} \lb{73,34.7}{OH} \lb{80.3,25.3}{O} \lb{104.1,15.5}{O} \lb{89.5,38.5}{HO} \lb{116.9,38.5}{OH}
 \lb{122.4,20.4}{N} \lb{152,8.1}{O} \lb{145.5,21.2}{NH} \lb{126.1,33.6}{O}}
\inbox{c10}{
 \draw[bond] (51,16) -- (58.4,20.25) -- (58.4,28.75) -- (51,33) -- (43.6,28.75) -- (43.6,20.25) -- cycle;
 \draw[bond] (58.4,20.25) -- (64.5,14.8) -- (70.5,21) -- (67.5,29.5) -- (58.4,28.75); \draw[bond] (51,16) -- (51.2,11);
 \draw[bond] (56.8,21.5) -- (56.8,27.5);
 \draw[bond] (67.5,29.5) -- (66,43.6);
 \draw[bond] (49,46) -- (58.4,40.4) -- (66,43.6) -- (64.6,54) -- (51.8,54) -- cycle;
 \draw[bond] (64.6,54) -- (68,57); \draw[bond] (30.6,48) -- (40,44) -- (49,46);
 \draw[bond] (51.8,54) -- (49,59.1); \draw[bond] (31,59.1) -- (47,59.1); \draw[bond] (39.7,56.6) -- (41,53.5); \draw[dbl] (39.7,61.6) -- (39.7,65.6);
 \draw[bond] (15.9,48) -- (30.6,48); \draw[bond] (15.9,45.5) -- (17.5,41); \draw[dbl] (13.3,48) -- (9.9,48);
 \draw[bond] (15.9,50.5) -- (15.9,83.6); \draw[dbl] (13.3,86.1) -- (9.9,86.1); \draw[bond] (15.9,88.6) -- (17.5,93.5); \draw[bond] (18.4,86.1) -- (24,86.1);
 \draw[bond] (28.5,85) -- (33.4,81.4) -- (40.5,85.2) -- (49,81.4) -- (56.1,86.1) -- (63.2,81.4) -- (71.7,86.1) -- (78.8,81.4) -- (87.3,86.1) -- (94.3,81.4) -- (102.9,86.1) -- (110,81.4) -- (116,85);
 \draw[bond] (40.5,85.2) -- (38.5,79.5); \draw[bond] (40.5,85.2) -- (38.5,90.5); \draw[bond] (49,81.4) -- (51,76.5);
 \draw[dbl] (56.1,86.1) -- (56.1,91.5); \draw[dbl] (87.3,86.1) -- (87.3,92); \draw[bond] (63.2,79) -- (63.2,77); \draw[bond] (94.3,79) -- (94.3,77);
 \lb{51.5,8.3}{NH\textsubscript{2}} \lb{43.6,20.25}{N} \lb{51,33}{N} \lb{64.5,14.8}{N} \lb{67.5,29.5}{N} \lb{58.4,40.4}{O} \lb{70.3,59.1}{OH}
 \lb{49,59.1}{O} \lb{39.7,59.1}{P} \lb{41.9,51.2}{OH} \lb{27.8,59.1}{HO} \lb{39.7,68.1}{O}
 \lb{18.7,38.3}{OH} \lb{7.4,48}{O} \lb{15.9,48}{P} \lb{30.6,48}{O} \lb{15.9,67.2}{O} \lb{15.9,86.1}{P} \lb{7.4,86.1}{O} \lb{18.7,96.5}{OH} \lb{26.3,86.1}{O}
 \lb{36.3,76.5}{H\textsubscript{3}C} \lb{36.3,93.5}{H\textsubscript{3}C} \lb{51.8,73.9}{OH} \lb{56.1,94.1}{O} \lb{63.2,81.4}{N} \lb{63.2,74.8}{H}
 \lb{87.3,94.6}{O} \lb{94.3,81.4}{N} \lb{94.3,74.8}{H} \lb{119.9,86.1}{SH}}
\inbox{c149}{
 \draw[bond] (13,18.5) -- (20.1,20.1) -- (30,16.2) -- (38.5,21.9) -- (45.6,17.2) -- (52.5,20.5);
 \draw[dbl] (20.1,20.1) -- (20.1,30.5); \draw[bond] (30,16.2) -- (30.5,10); \draw[dbl] (45.6,17.2) -- (45.6,10);
 \lb{30.9,7.2}{OH} \lb{9.6,17.6}{HO} \lb{20.1,33.4}{O} \lb{45.6,7.4}{O} \lb{56.9,21.9}{OH}}
\inbox{c22}{
 \draw[bond] (12,20.5) -- (20,18); \draw[dbl] (20,18) -- (20,9); \draw[bond] (20,18) -- (29.5,21.7); \draw[dbl] (29.5,21.7) -- (34,18); \draw[bond] (29.5,21.7) -- (30,28.5);
 \lb{20,6.2}{O} \lb{8.1,21.7}{H\textsubscript{3}C} \lb{35.8,17}{O} \lb{30.2,31.2}{OH}}
\inbox{c48}{
 \draw[dbl] (14.4,11) -- (9,8.3); \draw[bond] (14.4,11) -- (21.5,8); \draw[bond] (14.4,11) -- (14.4,19.5); \draw[dbl] (14.4,19.5) -- (21,24);
 \lb{6.8,6.6}{O} \lb{25.7,6.6}{OH} \lb{23.2,25.5}{O}}
\inbox{c288}{
 \draw[bond] (17.5,15.5) -- (23,9.5); \draw[dbl] (17.5,15.5) -- (10.5,15.5); \draw[bond] (17.5,15.5) -- (22,21.5);
 \lb{25.4,7.4}{OH} \lb{7.9,15.5}{O} \lb{23.5,24.2}{O\textsuperscript{-}}}
\inbox{c5852}{
 \hexa{12.5,15}{8}
 \draw[bond] (19.4,11) -- (24.5,7.5); \draw[bond] (19.4,19) -- (28.4,24.5) -- (37.4,20); \draw[dbl] (37.4,20) -- (37.4,13.2); \draw[bond] (37.4,20) -- (43.5,24);
 \lb{28,6.3}{OH} \lb{37.4,10.7}{O} \lb{47.9,25.5}{OH}}
\inbox{c601}{
 \hexa{12,27.6}{8.5}
 \draw[bond] (12,19.1) -- (13.5,11) -- (20.5,6.5); \draw[dbl] (20.5,6.5) -- (26.5,9.3);
 \lb{29.3,9.5}{O}}
\inbox{c25}{
 \draw[bond] (13,22) -- (20.1,18.9) -- (29.9,22.6) -- (37.3,18.4) -- (45.6,22.6) -- (53.8,18.4) -- (61,21);
 \draw[dbl] (20.1,18.9) -- (20.1,11); \draw[dbl] (53.8,18.4) -- (53.8,10.3); \draw[bond] (29.9,22.6) -- (30.5,29);
 \lb{20.1,8.2}{O} \lb{9,23.1}{HO} \lb{32.4,32.5}{NH\textsubscript{2}} \lb{53.8,7.3}{O} \lb{65,21.4}{OH}}
\inbox{c166}{
 \draw[dbl] (21.5,11) -- (15.5,8.3); \draw[bond] (21.5,11) -- (28.5,8.3); \draw[bond] (21.5,11) -- (21.5,22.1); \draw[dbl] (21.5,22.1) -- (27,25.5);
 \draw[bond] (21.5,22.1) -- (13,28.9) -- (13,38.1);
 \hexa{13,46.6}{8.5}
 \lb{13,7.6}{O} \lb{32.2,7.6}{OH} \lb{29.4,26.9}{O}}
\inbox{c79}{
 \draw[bond] (14,21.3) -- (20.7,17.9) -- (29.3,22.6) -- (37.5,17.9) -- (46.9,23.25); \draw[dbl] (20.7,17.9) -- (20.7,10); \draw[bond] (29.3,22.6) -- (28,29);
 \hexa{54.3,27.5}{8.5}
 \lb{20.7,7.5}{O} \lb{9.9,22.4}{HO} \lb{24.3,32.3}{H\textsubscript{2}N}}
\inbox{c26}{
 \draw[bond] (16.8,18.4) -- (18.5,10.5); \draw[dbl] (16.8,18.4) -- (10.5,21);
 \draw[bond] (16.8,18.4) -- (24.7,22.6) -- (33.2,18) -- (41.5,22.6) -- (49.7,18) -- (57,21);
 \draw[dbl] (41.5,22.6) -- (41.5,29); \draw[dbl] (49.7,18) -- (49.7,10);
 \lb{19.2,7.3}{OH} \lb{7.7,21.8}{O} \lb{41.5,31.6}{O} \lb{49.7,7.3}{O} \lb{60.9,21.8}{OH}}
% ---------- reactions ----------
\rxn{r01067}{248}{113}{R01067}
\rxn{r00341}{488}{114}{R00341}
\rxn{r07500}{916}{114}{R07500}
\rxn{r02520}{1182.5}{114}{R02520}
\rxn{r00771}{220}{270.5}{R00771}
\rxn{r00344}{632.5}{271}{R00344}
\rxn{r05450}{1287}{271}{R05450}
\rxn{r00725}{142.3}{426.5}{R00725}
\rxn{r00209}{861.5}{426.5}{R00209}
\rxn{r01372}{1449.6}{426.5}{R01372}
\node[rbox, fill=rblue] (r01377) at (1501,-426.5) {R01377};
\rxn{r00837}{194}{582.5}{R00837}
\rxn{r00472}{938}{582}{R00472}
\rxn{r00694}{1441}{582}{R00694}
\rxn{r02737}{240.4}{768}{R02737}
\rxn{r00214}{938}{768}{R00214}
\rxn{r00286}{440}{924}{R00286}
\rxn{r07658}{467.5}{1080.6}{R07658}
% ---------- connectors ----------
\draw[rxarrow] (c279) -- (r01067);
\draw[rxarrow] (c231) -- (r01067);
\draw[rxarrow] (r01067) -- (c85);
\draw[rxarrow] (r01067) -- (c118);
\draw[rxarrow] (c85) -- (r00771);
\draw[rxarrow] (r00771) -- (c92);
\draw[rxarrow] (c104) -- (r00725);
\draw[rxarrow] (c92) -- (r00725);
\draw[rxarrow] (r00725) -- (c81);
\draw[rxarrow] (r00725) -- (c31);
\draw[rxarrow] (c31) -- (r00837);
\draw[rxarrow] (c92.south) .. controls (221,-480) and (208,-530) .. ([xshift=9pt]r00837.north);
\draw[rxarrow] (r00837) -- (c689);
\draw[rxarrow] (r00837) to[bend left=10] (c1a);
\draw[rxarrow] (c689) -- (r02737);
\draw[rxarrow] (c15) -- (r02737);
\draw[rxarrow] (r02737) -- (c29);
\draw[rxarrow] (r02737) -- (c668);
\draw[rxarrow] ([xshift=-12.6pt]c29.south east) to[bend right=8] ([yshift=2pt]r00286.west);
\draw[rxarrow] (c3a) -- (r00286);
\draw[rxarrow] ([xshift=-6pt]c1b.south) to[out=-100, in=15] ([yshift=5pt]r00286.east);
\draw[rxarrow] (r00286) -- (c167);
\draw[rxarrow] (r00286) -- (c4a);
\draw[rxarrow] ([yshift=-4pt]r00286.east) .. controls (500,-935) and (535,-960) .. ([xshift=-5pt]c80a.north);
\draw[rxarrow] ([yshift=2pt]c167.south east) to[bend right=6] ([yshift=7pt]r07658.west);
\draw[rxarrow] (c3b.south west) -- ([yshift=7pt]r07658.east);
\draw[rxarrow] ([yshift=-6pt]r07658.west) to[out=215, in=80] ([xshift=7pt]c11a.north);
\draw[rxarrow] (r07658) -- (c80b);
\draw[rxarrow] (r07658) -- ([xshift=-29pt]c4b.north);
\draw[rxarrow] ([yshift=-4pt]r07658.east) to[bend left=5] ([xshift=8pt]c16155.north west);
\draw[rxarrow] (c74) -- (r00341);
\draw[rxarrow] (c11b) -- (r00341);
\draw[rxarrow] (c3c) -- (r00341);
\draw[rxarrow] (r00341.south west) to[bend right=15] ([xshift=16pt]c36.north);
\draw[rxarrow] (r00341) -- (c2a);
\draw[rxarrow] ([xshift=12pt]c36.south) to[out=-60, in=172] ([yshift=3pt]r00344.west);
\draw[rxarrow] (c9) -- (r00344);
\draw[rxarrow] (c3d) -- (r00344);
\draw[rxarrow] ([yshift=-3.4pt]r00344.west) to[out=196, in=58] ([xshift=9pt]c288.north);
\draw[rxarrow] (r00344) -- (c2b);
\draw[rxarrow] ([yshift=-4pt]r00344.east) to[out=-17, in=130] ([xshift=-12pt]c22.north);
\draw[rxarrow] ([xshift=15pt]c22.south) to[out=-50, in=160] ([yshift=8pt]r00209.west);
\draw[rxarrow] (c3e) -- (r00209);
\draw[rxarrow] ([xshift=-10pt]c10.north) .. controls (812,-540) and (812,-470) .. ([xshift=-17pt]r00209.south);
\draw[rxarrow] ([yshift=-11pt]r00209.west) to[out=210, in=60] ([xshift=8.6pt]c11c.north);
\draw[rxarrow] (r00209) -- (c24);
\draw[rxarrow] ([xshift=16pt]r00209.south) to[out=-50, in=115] ([xshift=-7.5pt]c80c.north);
\draw[rxarrow] ([yshift=-2.4pt]r00209.east) to[bend left=8] (c4c.north west);
\draw[rxarrow] (c24) -- (r00472);
\draw[rxarrow] (c48) -- (r00472);
\draw[rxarrow] ([xshift=-7.5pt]c1c.south) to[out=-105, in=30] ([yshift=9pt]r00472.east);
\draw[rxarrow] (r00472) -- (c10);
\draw[rxarrow] (r00472) -- (c149);
\draw[rxarrow] (c149) -- (r00214);
\draw[rxarrow] (c3f) -- (r00214);
\draw[rxarrow] (r00214.west) .. controls (810,-756) and (735,-735) .. (733.5,-660) .. controls (733,-560) and (744,-450) .. (c22.south);
\draw[rxarrow] (r00214) -- (c11d);
\draw[rxarrow] (r00214) -- (c80d);
\draw[rxarrow] (r00214) -- (c4d);
\draw[rxarrow] ([xshift=7pt]c11e.south) to[out=-65, in=150] ([yshift=8pt]r07500.west);
\draw[rxarrow] (c13) -- (r07500);
\draw[rxarrow] (c15882) -- (r07500);
\draw[rxarrow] (r07500) -- (c5427);
\draw[rxarrow] ([yshift=-5pt]r07500.east) to[bend left=3] ([yshift=-20pt]c544.north west);
\draw[rxarrow] (c11f) -- (r02520);
\draw[rxarrow] (c5585) -- (r02520);
\draw[rxarrow] ([xshift=-7.4pt]c1d.south) to[out=-110, in=25] ([yshift=6pt]r02520.east);
\draw[rxarrow] (r02520) -- (c544);
\draw[rxarrow] (r02520) -- (c7a);
\draw[rxarrow] ([xshift=-3pt]c544.south east) to[out=-55, in=170] ([yshift=3pt]r05450.west);
\draw[rxarrow] (c3g) -- (r05450);
\draw[rxarrow] ([xshift=-1.5pt]c1e.south) to[out=-105, in=20] ([yshift=5pt]r05450.east);
\draw[rxarrow] ([yshift=-5pt]r05450.west) to[out=195, in=75] ([xshift=4.5pt]c7b.north);
\draw[rxarrow] (r05450) -- (c4e);
\draw[rxarrow] (r05450) -- (c5852);
\draw[rxarrow] ([yshift=-5pt]r05450.east) to[out=-15, in=105] ([xshift=-7pt]c80e.north);
\draw[rxarrow] ([xshift=14pt]c5852.south) to[out=-60, in=155] ([yshift=8pt]r01372.west);
\draw[rxarrow] (c11g) -- (r01372);
\draw[rxarrow] (c601) -- (r01377);
\draw[rxarrow] (c11h) -- (r01377);
\draw[rxarrow] (r01372) -- (c7c);
\draw[rxarrow] (r01372) -- (c166);
\draw[rxarrow] (r01377) -- (c166);
\draw[rxarrow] (c25) -- (r00694);
\draw[rxarrow] (c166) -- (r00694);
\draw[rxarrow] (r00694) -- (c79);
\draw[rxarrow] (r00694) -- (c26);
\end{tikzpicture}
\end{document}
